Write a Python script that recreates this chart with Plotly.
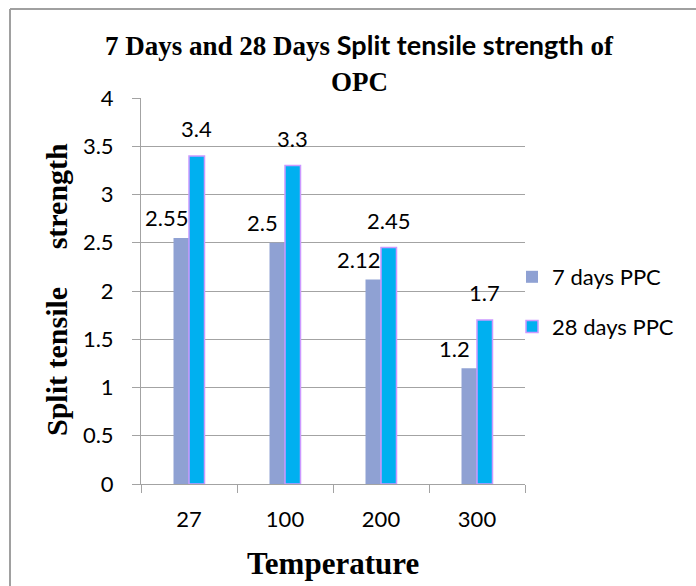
import plotly.graph_objects as go

# Temperatures (deg C) and split tensile strength (MPa)
temperatures = ["27", "100", "200", "300"]
strength_7_days = [2.55, 2.5, 2.12, 1.2]
strength_28_days = [3.4, 3.3, 2.45, 1.7]
series_names = ["7 days PPC", "28 days PPC"]

y_ticks = [0, 0.5, 1, 1.5, 2, 2.5, 3, 3.5, 4]

W, H = 696, 586
M_L, M_R, M_T, M_B = 141, 171, 98, 102
PLOT_W = W - M_L - M_R
PLOT_H = H - M_T - M_B
BARGAP = 0.677

GRID = "#A3A3A3"
SANS = "Lato"
SERIF = "Liberation Serif"


def px_x(p):
    return (p - M_L) / PLOT_W


def px_y(p):
    return (H - M_B - p) / PLOT_H


fig = go.Figure()
fig.add_trace(go.Bar(
    x=temperatures, y=strength_7_days, name=series_names[0],
    marker=dict(color="#8FA1D3", line=dict(width=0)),
    legendgroup="a",
))
fig.add_trace(go.Bar(
    x=temperatures, y=strength_28_days, name=series_names[1],
    marker=dict(color="#00B0F0", line=dict(color="#CC99FF", width=1.5)),
    legendgroup="b",
))

# value labels above each bar (x given as category index)
half_bar = (1 - BARGAP) / 4          # bar centre offset in category units
label_shift = 15 / (PLOT_W / len(temperatures))
annotations = []
for i, v in enumerate(strength_7_days):
    annotations.append(dict(
        x=i - half_bar - label_shift, y=v, xref="x", yref="y",
        text=f"{v:g}", showarrow=False, yshift=20, yanchor="middle",
        font=dict(family=SANS, size=22, color="black")))
for i, v in enumerate(strength_28_days):
    annotations.append(dict(
        x=i + half_bar, y=v, xref="x", yref="y",
        text=f"{v:g}", showarrow=False, yshift=27, yanchor="middle",
        font=dict(family=SANS, size=22, color="black")))

# chart title (two lines)
annotations.append(dict(
    x=px_x(359), y=px_y(45), xref="paper", yref="paper", showarrow=False,
    text=(f"7 Days and 28 Days <span style='font-family:{SANS}'>Split tensile strength</span> of"),
    font=dict(family=SERIF, size=27, color="black", weight="bold"),
    xanchor="center", yanchor="middle"))
annotations.append(dict(
    x=px_x(359), y=px_y(82), xref="paper", yref="paper", showarrow=False,
    text="OPC", font=dict(family=SERIF, size=27, color="black", weight="bold"),
    xanchor="center", yanchor="middle"))

# axis titles
annotations.append(dict(
    x=px_x(56), y=px_y(290), xref="paper", yref="paper", showarrow=False,
    text="Split tensile\u00a0\u00a0\u00a0\u00a0\u00a0strength", textangle=-90,
    font=dict(family=SERIF, size=30, color="black", weight="bold"),
    xanchor="center", yanchor="middle"))
annotations.append(dict(
    x=px_x(333), y=px_y(563), xref="paper", yref="paper", showarrow=False,
    text="Temperature",
    font=dict(family=SERIF, size=31, color="black", weight="bold"),
    xanchor="center", yanchor="middle"))

# outer frame (top and left edges)
shapes = [
    dict(type="line", xref="paper", yref="paper", x0=px_x(10), x1=px_x(720),
         y0=px_y(9), y1=px_y(9), line=dict(color="#A0A0A0", width=2)),
    dict(type="line", xref="paper", yref="paper", x0=px_x(10), x1=px_x(10),
         y0=px_y(9), y1=px_y(620), line=dict(color="#A0A0A0", width=2)),
]

fig.update_layout(
    width=W, height=H,
    margin=dict(l=M_L, r=M_R, t=M_T, b=M_B),
    paper_bgcolor="white", plot_bgcolor="white",
    barmode="group", bargap=BARGAP, bargroupgap=0,
    showlegend=True,
    legend=dict(
        x=px_x(512), y=px_y(302), xanchor="left", yanchor="middle",
        font=dict(family=SANS, size=22, color="black"),
        traceorder="grouped", tracegroupgap=18,
        bgcolor="rgba(0,0,0,0)", borderwidth=0,
    ),
    annotations=annotations,
    shapes=shapes,
)
fig.update_xaxes(
    type="category", range=[-0.5, len(temperatures) - 0.5],
    categoryorder="array", categoryarray=temperatures,
    showline=True, linecolor=GRID, linewidth=1,
    ticks="outside", tickson="boundaries", ticklen=8, tickcolor=GRID,
    ticklabelstandoff=16, tickangle=0,
    tickfont=dict(family=SANS, size=22, color="black"),
    showgrid=False,
)
fig.update_yaxes(
    range=[0, 4], tickvals=y_ticks, ticktext=[f"{t:g}" for t in y_ticks],
    showline=True, linecolor=GRID, linewidth=1,
    ticks="outside", ticklen=8, tickcolor=GRID, ticklabelstandoff=14,
    showgrid=True, gridcolor=GRID, gridwidth=1, zeroline=False,
    tickfont=dict(family=SANS, size=22, color="black"),
)

fig.write_html("out.html")
